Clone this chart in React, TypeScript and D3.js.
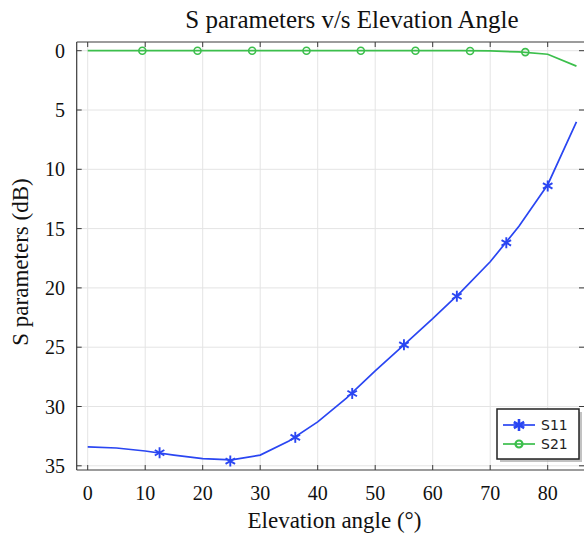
import React from "react";
import * as d3 from "d3";

const angles = [0, 5, 10, 15, 20, 25, 30, 35, 40, 45, 50, 55, 60, 65, 70, 75, 80, 85];
const s11 = [33.4, 33.5, 33.75, 34.1, 34.4, 34.5, 34.1, 32.9, 31.3, 29.3, 27.0, 24.8, 22.6, 20.3, 17.8, 14.8, 11.3, 6.0];
const s21 = [0, 0, 0, 0, 0, 0, 0, 0, 0, 0, 0, 0, 0, 0, 0.02, 0.1, 0.3, 1.3];

const s11MarkerX = [12.5, 24.8, 36.1, 46.0, 55.0, 64.2, 72.8, 80.0];
const s11MarkerY = [33.9, 34.6, 32.6, 28.9, 24.8, 20.7, 16.2, 11.4];
const s21MarkerX = [9.5, 19.1, 28.6, 38.05, 47.5, 57.0, 66.5, 76.1];
const s21MarkerY = [0, 0, 0, 0, 0, 0, 0.02, 0.12];

const xTicks = [0, 10, 20, 30, 40, 50, 60, 70, 80];
const yTicks = [0, 5, 10, 15, 20, 25, 30, 35];

const BLUE = "#2a46f2";
const GREEN = "#3cbf4c";
const FRAME = "#3a3a3a";
const SERIF = "'Liberation Serif', 'Times New Roman', serif";
const SANS = "'DejaVu Sans', sans-serif";

const W = 584;
const H = 533;

const x = d3.scaleLinear().domain([0, 80]).range([87.7, 547.7]);
const y = d3.scaleLinear().domain([0, 35]).range([50.7, 465.8]);

const left = 76.7;
const right = 585;
const top = 42;
const bottom = 470;

function Asterisk({ cx, cy, r, color, sw }: { cx: number; cy: number; r: number; color: string; sw: number }) {
  const angs = [90, 30, -30];
  return (
    <g stroke={color} strokeWidth={sw} strokeLinecap="butt">
      {angs.map((a) => {
        const rad = (a * Math.PI) / 180;
        const dx = r * Math.cos(rad);
        const dy = r * Math.sin(rad);
        return <line key={a} x1={cx - dx} y1={cy - dy} x2={cx + dx} y2={cy + dy} />;
      })}
    </g>
  );
}

export default function App() {
  const line = d3
    .line<[number, number]>()
    .x((d) => x(d[0]))
    .y((d) => y(d[1]));
  const p11 = line(angles.map((a, i) => [a, s11[i]]) as [number, number][]) || "";
  const p21 = line(angles.map((a, i) => [a, s21[i]]) as [number, number][]) || "";

  const lx = 497;
  const ly = 409;
  return (
    <div style={{ position: "fixed", left: 0, top: 0 }}>
      <svg width={W} height={H} style={{ display: "block", background: "#fff" }}>
        <defs>
          <clipPath id="plotclip">
            <rect x={left} y={top} width={right - left} height={bottom - top} />
          </clipPath>
        </defs>
        {/* grid */}
        <g stroke="#e4e4e4" strokeWidth={1}>
          {xTicks.map((t) => (
            <line key={"gx" + t} x1={x(t)} x2={x(t)} y1={top} y2={bottom} />
          ))}
          {yTicks.map((t) => (
            <line key={"gy" + t} x1={left} x2={right} y1={y(t)} y2={y(t)} />
          ))}
        </g>
        {/* series */}
        <g clipPath="url(#plotclip)">
          <path d={p21} fill="none" stroke={GREEN} strokeWidth={1.7} />
          <path d={p11} fill="none" stroke={BLUE} strokeWidth={1.7} />
          {s21MarkerX.map((mx, i) => (
            <circle key={"m21" + i} cx={x(mx)} cy={y(s21MarkerY[i])} r={3.5} fill="none" stroke={GREEN} strokeWidth={1.6} />
          ))}
          {s11MarkerX.map((mx, i) => (
            <Asterisk key={"m11" + i} cx={x(mx)} cy={y(s11MarkerY[i])} r={5.5} color={BLUE} sw={1.9} />
          ))}
        </g>
        {/* frame */}
        <g stroke={FRAME} strokeWidth={1.2} fill="none">
          <line x1={left} x2={right} y1={top} y2={top} />
          <line x1={left} x2={right} y1={bottom} y2={bottom} />
          <line x1={left} x2={left} y1={top} y2={bottom} />
        </g>
        <g stroke={FRAME} strokeWidth={1}>
          {xTicks.map((t) => (
            <g key={"tx" + t}>
              <line x1={x(t)} x2={x(t)} y1={bottom} y2={bottom - 5} />
              <line x1={x(t)} x2={x(t)} y1={top} y2={top + 5} />
            </g>
          ))}
          {yTicks.map((t) => (
            <g key={"ty" + t}>
              <line x1={left} x2={left + 5} y1={y(t)} y2={y(t)} />
              <line x1={584} x2={579} y1={y(t)} y2={y(t)} />
            </g>
          ))}
        </g>
        {/* tick labels */}
        <g fontFamily={SERIF} fontSize={20} fill="#111">
          {xTicks.map((t) => (
            <text key={"lx" + t} x={x(t)} y={500} textAnchor="middle">
              {t}
            </text>
          ))}
          {yTicks.map((t) => (
            <text key={"ly" + t} x={65} y={y(t)} dy="0.35em" textAnchor="end">
              {t}
            </text>
          ))}
        </g>
        {/* titles */}
        <text x={352} y={28} textAnchor="middle" fontFamily={SERIF} fontSize={25} fill="#111">
          S parameters v/s Elevation Angle
        </text>
        <text x={334.5} y={528} textAnchor="middle" fontFamily={SERIF} fontSize={23} fill="#111">
          Elevation angle (°)
        </text>
        <text
          transform={`translate(28, ${262}) rotate(-90)`}
          textAnchor="middle"
          fontFamily={SERIF}
          fontSize={23}
          fill="#111"
        >
          S parameters (dB)
        </text>
        {/* legend */}
        <g>
          <rect x={lx + 3} y={ly + 3} width={82} height={50} fill="#999" opacity={0.6} />
          <rect x={lx} y={ly} width={82} height={50} fill="#fff" stroke="#222" strokeWidth={1.5} />
          <line x1={lx + 6} x2={lx + 38} y1={ly + 16} y2={ly + 16} stroke={BLUE} strokeWidth={1.7} />
          <Asterisk cx={lx + 22} cy={ly + 16} r={6} color={BLUE} sw={2.6} />
          <text x={lx + 44} y={ly + 16} dy="0.35em" fontFamily={SANS} fontSize={14} fill="#222">
            S11
          </text>
          <line x1={lx + 6} x2={lx + 38} y1={ly + 35} y2={ly + 35} stroke={GREEN} strokeWidth={1.7} />
          <circle cx={lx + 22} cy={ly + 35} r={3.5} fill="none" stroke={GREEN} strokeWidth={2.2} />
          <text x={lx + 44} y={ly + 35} dy="0.35em" fontFamily={SANS} fontSize={14} fill="#222">
            S21
          </text>
        </g>
      </svg>
    </div>
  );
}
